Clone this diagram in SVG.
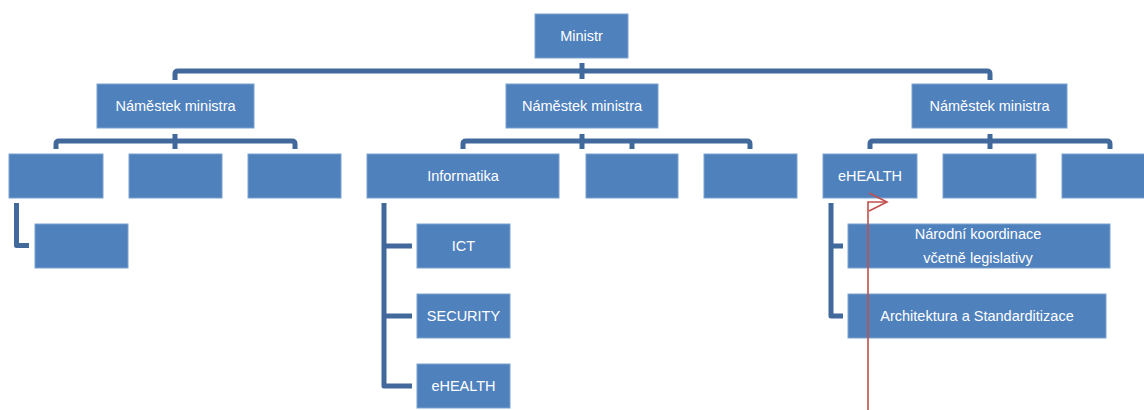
<svg xmlns="http://www.w3.org/2000/svg" width="1144" height="410" viewBox="0 0 1144 410">
<defs>
<style>
.box{fill:#4F81BD;stroke:#7BA2D0;stroke-width:1}
.lbl{font-family:"Liberation Sans",Arial,sans-serif;font-size:14.5px;fill:#FFFFFF;text-anchor:middle}
.con{fill:none;stroke:#41699C;stroke-width:5;stroke-linejoin:round}
.red{fill:none;stroke:#C0504D;stroke-width:1.6}
</style>
<marker id="openArrow" markerWidth="22" markerHeight="22" refX="19" refY="10" orient="auto" markerUnits="userSpaceOnUse">
<path d="M1,1 L19,10 L1,19" fill="none" stroke="#C0504D" stroke-width="1.6"/>
</marker>
</defs>
<rect width="1144" height="410" fill="#FFFFFF"/>
<g id="connectors">
<path class="con" d="M175,80 V74 Q175,71 178,71 H987 Q990,71 990,74 V80"/>
<path class="con" d="M582,63 V79"/>
<path class="con" d="M56,149 V144 Q56,141 59,141 H292 Q295,141 295,144 V149"/>
<path class="con" d="M175,134 V149"/>
<path class="con" d="M463,149 V144 Q463,141 466,141 H747 Q750,141 750,144 V149"/>
<path class="con" d="M582,134 V149"/>
<path class="con" d="M632,141 V149"/>
<path class="con" d="M870,149 V144 Q870,141 873,141 H1107 Q1110,141 1110,144 V149"/>
<path class="con" d="M990,134 V149"/>
<path class="con" d="M16.5,203 V245.5 H29"/>
<path class="con" d="M384,203 V386 H412"/>
<path class="con" d="M384,246 H412"/>
<path class="con" d="M384,316 H412"/>
<path class="con" d="M831,203 V316 H843"/>
<path class="con" d="M831,246 H843"/>
</g>
<g id="ministr"><rect class="box" x="535" y="14" width="93" height="44"/><text class="lbl" x="581.5" y="41">Ministr</text></g>
<g id="namestek1"><rect class="box" x="97" y="84" width="157" height="44"/><text class="lbl" x="175.5" y="111">Náměstek ministra</text></g>
<g id="namestek2"><rect class="box" x="506" y="84" width="152" height="44"/><text class="lbl" x="582" y="111">Náměstek ministra</text></g>
<g id="namestek3"><rect class="box" x="912" y="84" width="155" height="44"/><text class="lbl" x="989.5" y="111">Náměstek ministra</text></g>
<g id="left1"><rect class="box" x="9" y="154" width="94" height="44"/></g>
<g id="left2"><rect class="box" x="129" y="154" width="93" height="44"/></g>
<g id="left3"><rect class="box" x="248" y="154" width="93" height="44"/></g>
<g id="left1sub"><rect class="box" x="35" y="224" width="93" height="44"/></g>
<g id="informatika"><rect class="box" x="367" y="154" width="192" height="44"/><text class="lbl" x="463" y="181">Informatika</text></g>
<g id="mid2"><rect class="box" x="586" y="154" width="92" height="44"/></g>
<g id="mid3"><rect class="box" x="704" y="154" width="93" height="44"/></g>
<g id="ict"><rect class="box" x="417" y="224" width="93" height="44"/><text class="lbl" x="463.5" y="251">ICT</text></g>
<g id="security"><rect class="box" x="417" y="294" width="93" height="44"/><text class="lbl" x="463.5" y="321">SECURITY</text></g>
<g id="ehealth-mid"><rect class="box" x="417" y="364" width="93" height="44"/><text class="lbl" x="463.5" y="391">eHEALTH</text></g>
<g id="ehealth"><rect class="box" x="823" y="154" width="94" height="44"/><text class="lbl" x="870" y="181">eHEALTH</text></g>
<g id="right2"><rect class="box" x="943" y="154" width="93" height="44"/></g>
<g id="right3"><rect class="box" x="1062" y="154" width="94" height="44"/></g>
<g id="narodni"><rect class="box" x="848" y="224" width="262" height="44"/><text class="lbl" x="978" y="239">Národní koordinace</text><text class="lbl" x="978" y="263">včetně legislativy</text></g>
<g id="architektura"><rect class="box" x="848" y="294" width="258" height="44"/><text class="lbl" x="977" y="321">Architektura a Standarditizace</text></g>
<g id="red-arrow"><path class="red" d="M868,410 V202 H887" marker-end="url(#openArrow)"/></g>
</svg>
